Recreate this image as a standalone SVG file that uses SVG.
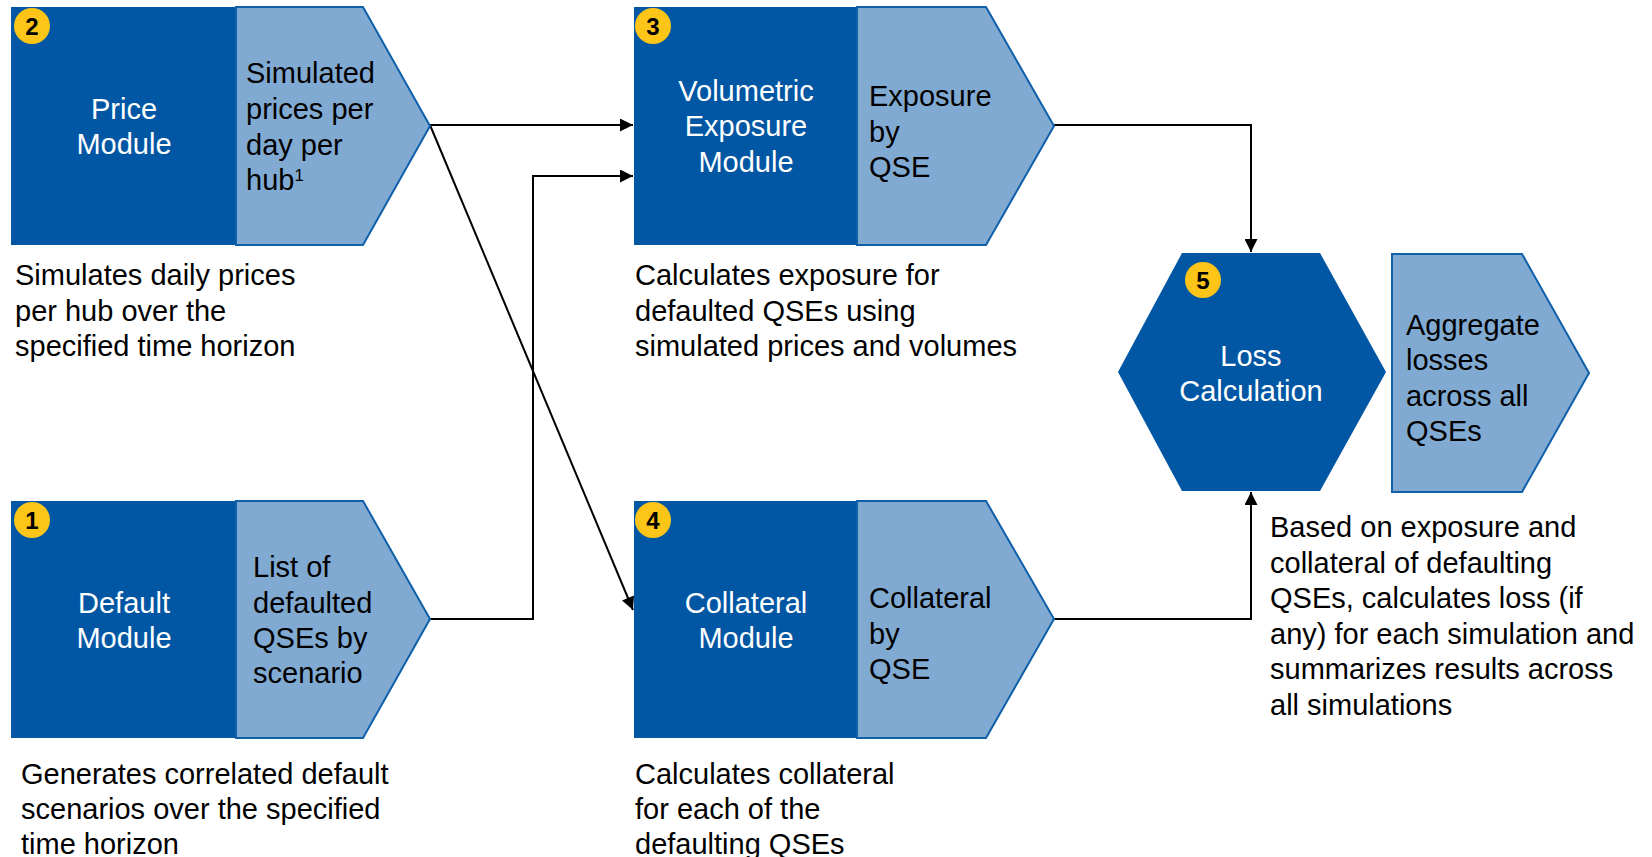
<svg xmlns="http://www.w3.org/2000/svg" width="1652" height="857" viewBox="0 0 1652 857">
<defs>
<style>
.dark{fill:#0157A4;}
.light{fill:#80AAD2;stroke:#0F5FA9;stroke-width:2;}
.badge{fill:#FCC517;}
.num{font-family:"Liberation Sans",Arial,sans-serif;font-size:24px;font-weight:bold;fill:#000;text-anchor:middle;}
.wt{font-family:"Liberation Sans",Arial,sans-serif;font-size:29px;fill:#fff;text-anchor:middle;}
.bt{font-family:"Liberation Sans",Arial,sans-serif;font-size:29px;fill:#000;}
.conn{fill:none;stroke:#000;stroke-width:2;}
</style>
<marker id="arr" viewBox="0 0 10 10" refX="10" refY="5" markerWidth="8" markerHeight="6.5" markerUnits="strokeWidth" orient="auto">
<path d="M0,0 L10,5 L0,10 z" fill="#000"/>
</marker>
</defs>
<rect width="1652" height="857" fill="#fff"/>

<g id="connectors">
<path class="conn" d="M430,125 H633" marker-end="url(#arr)"/>
<path class="conn" d="M430,619 H533 V176 H633" marker-end="url(#arr)"/>
<path class="conn" d="M430,125 L633,610" marker-end="url(#arr)"/>
<path class="conn" d="M1054,125 H1251 V252" marker-end="url(#arr)"/>
<path class="conn" d="M1054,619 H1251 V492" marker-end="url(#arr)"/>
</g>

<g id="node2">
<rect class="dark" x="11" y="7" width="225" height="238"/>
<polygon class="light" points="236,7 363,7 430,126 363,245 236,245"/>
<circle class="badge" cx="32" cy="26" r="18"/>
<text class="num" x="32" y="34.5">2</text>
<text class="wt" x="124" y="119">Price</text>
<text class="wt" x="124" y="154">Module</text>
<text class="bt" x="246" y="83">Simulated</text>
<text class="bt" x="246" y="119">prices per</text>
<text class="bt" x="246" y="155">day per</text>
<text class="bt" x="246" y="190">hub<tspan font-size="17" dy="-9">1</tspan></text>
<text class="bt" x="15" y="285">Simulates daily prices</text>
<text class="bt" x="15" y="320.5">per hub over the</text>
<text class="bt" x="15" y="356">specified time horizon</text>
</g>

<g id="node1">
<rect class="dark" x="11" y="501" width="225" height="237"/>
<polygon class="light" points="236,501 363,501 430,619 363,738 236,738"/>
<circle class="badge" cx="32" cy="520" r="18"/>
<text class="num" x="32" y="528.5">1</text>
<text class="wt" x="124" y="613">Default</text>
<text class="wt" x="124" y="648">Module</text>
<text class="bt" x="253" y="577">List of</text>
<text class="bt" x="253" y="613">defaulted</text>
<text class="bt" x="253" y="648">QSEs by</text>
<text class="bt" x="253" y="683">scenario</text>
<text class="bt" x="21" y="784">Generates correlated default</text>
<text class="bt" x="21" y="819">scenarios over the specified</text>
<text class="bt" x="21" y="854">time horizon</text>
</g>

<g id="node3">
<rect class="dark" x="634" y="7" width="223" height="238"/>
<polygon class="light" points="857,7 986,7 1054,126 986,245 857,245"/>
<circle class="badge" cx="653" cy="26" r="18"/>
<text class="num" x="653" y="34.5">3</text>
<text class="wt" x="746" y="100.5">Volumetric</text>
<text class="wt" x="746" y="136">Exposure</text>
<text class="wt" x="746" y="171.5">Module</text>
<text class="bt" x="869" y="106">Exposure</text>
<text class="bt" x="869" y="141.5">by</text>
<text class="bt" x="869" y="177">QSE</text>
<text class="bt" x="635" y="285">Calculates exposure for</text>
<text class="bt" x="635" y="320.5">defaulted QSEs using</text>
<text class="bt" x="635" y="356">simulated prices and volumes</text>
</g>

<g id="node4">
<rect class="dark" x="634" y="501" width="223" height="237"/>
<polygon class="light" points="857,501 986,501 1054,619 986,738 857,738"/>
<circle class="badge" cx="653" cy="520" r="18"/>
<text class="num" x="653" y="528.5">4</text>
<text class="wt" x="746" y="613">Collateral</text>
<text class="wt" x="746" y="648">Module</text>
<text class="bt" x="869" y="608">Collateral</text>
<text class="bt" x="869" y="643.5">by</text>
<text class="bt" x="869" y="679">QSE</text>
<text class="bt" x="635" y="784">Calculates collateral</text>
<text class="bt" x="635" y="819">for each of the</text>
<text class="bt" x="635" y="854">defaulting QSEs</text>
</g>

<g id="node5">
<polygon class="dark" points="1182,253 1320,253 1386,372 1320,491 1182,491 1118,372"/>
<circle class="badge" cx="1203" cy="280" r="18"/>
<text class="num" x="1203" y="288.5">5</text>
<text class="wt" x="1251" y="366">Loss</text>
<text class="wt" x="1251" y="401">Calculation</text>
<polygon class="light" points="1392,254 1522,254 1589,373 1522,492 1392,492"/>
<text class="bt" x="1406" y="335">Aggregate</text>
<text class="bt" x="1406" y="370">losses</text>
<text class="bt" x="1406" y="405.5">across all</text>
<text class="bt" x="1406" y="441">QSEs</text>
<text class="bt" x="1270" y="537">Based on exposure and</text>
<text class="bt" x="1270" y="572.5">collateral of defaulting</text>
<text class="bt" x="1270" y="608">QSEs, calculates loss (if</text>
<text class="bt" x="1270" y="643.5">any) for each simulation and</text>
<text class="bt" x="1270" y="679">summarizes results across</text>
<text class="bt" x="1270" y="714.5">all simulations</text>
</g>
</svg>
